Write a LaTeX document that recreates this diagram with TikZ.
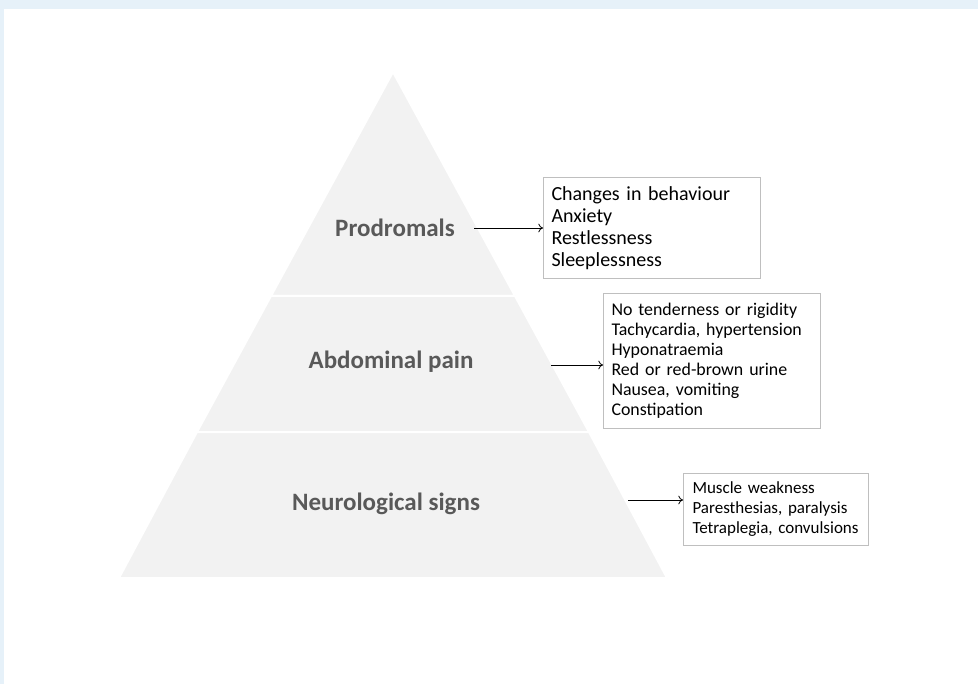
\documentclass[tikz,border=0pt]{standalone}
\usepackage{fontspec}
\setmainfont{Carlito}
\usetikzlibrary{positioning,arrows.meta}
\definecolor{tiergrey}{HTML}{F2F2F2}
\definecolor{labelgrey}{HTML}{595959}
\definecolor{boxline}{HTML}{BFBFBF}
\definecolor{frameblue}{HTML}{E6F1F9}
\tikzset{
	tier/.style={fill=tiergrey,draw=white,line width=1.5pt,line join=round},
	stage/.style={font=\fontsize{18.75}{22}\selectfont\bfseries,text=labelgrey},
	signs/.style={draw=boxline,line width=0.75pt,align=left,inner xsep=6pt,anchor=north west},
	pointer/.style={-{To[length=3.5pt,width=6.5pt]},line width=0.6pt},
}
\begin{document}
\begin{tikzpicture}[x=0.75pt,y=-0.75pt]
	\useasboundingbox (0,0) rectangle (978,684);
	\fill[frameblue] (0,0) rectangle (978,9);
	\fill[frameblue] (0,0) rectangle (4,684);
	\draw[tier] (393,72)--(515,296)--(271,296)--cycle;
	\draw[tier] (271,296)--(515,296)--(589,432)--(197,432)--cycle;
	\draw[tier] (197,432)--(589,432)--(667,578)--(119,578)--cycle;
	\node[stage] (prodromals) at (395,228) {Prodromals};
	\node[stage] (abdominal) at (391,362) {Abdominal pain};
	\node[stage] (neuro) at (386,504) {Neurological signs};
	\node[signs,text width=150.75pt,minimum height=75.75pt,font=\fontsize{15}{16.5}\selectfont] (prodbox) at (543,177) {Changes in behaviour\\Anxiety\\Restlessness\\Sleeplessness};
	\node[signs,text width=150.75pt,minimum height=101.25pt,font=\fontsize{13.4}{15}\selectfont] (abdbox) at (603,293) {No tenderness or rigidity\\Tachycardia, hypertension\\Hyponatraemia\\Red or red-brown urine\\Nausea, vomiting\\Constipation};
	\node[signs,inner xsep=6.75pt,text width=125.25pt,minimum height=54pt,font=\fontsize{12.75}{15}\selectfont] (neurobox) at (683,473) {Muscle weakness\\Paresthesias, paralysis\\Tetraplegia, convulsions};
	\coordinate (p) at (474,228);
	\coordinate (a) at (551,365);
	\coordinate (n) at (628,500);
	\draw[pointer] (p)--(p -| prodbox.west);
	\draw[pointer] (a)--(a -| abdbox.west);
	\draw[pointer] (n)--(n -| neurobox.west);
\end{tikzpicture}
\end{document}
